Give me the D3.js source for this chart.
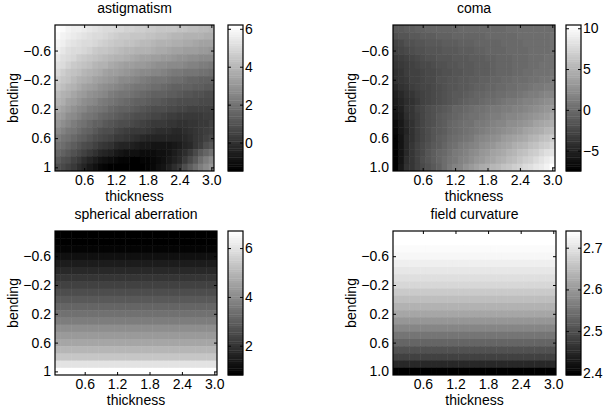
<!DOCTYPE html>
<html>
<head>
<meta charset="utf-8">
<script src="https://cdn.jsdelivr.net/npm/d3@7"></script>
<style>
    body { margin: 0; background: #fff; }
    text { font-family: Helvetica, Arial, "Liberation Sans", sans-serif; font-size: 14px; fill: #000; }
</style>
</head>
<body>
<div id="chart"></div>
<script>
// grid of the images (cell centres)
const thickness = [0.1, 0.2, 0.3, 0.4, 0.5, 0.6, 0.7, 0.8, 0.9, 1.0, 1.1, 1.2, 1.3, 1.4, 1.5,
    1.6, 1.7, 1.8, 1.9, 2.0, 2.1, 2.2, 2.3, 2.4, 2.5, 2.6, 2.7, 2.8, 2.9, 3.0];
const bending = [-0.9, -0.8, -0.7, -0.6, -0.5, -0.4, -0.3, -0.2, -0.1, 0.0,
    0.1, 0.2, 0.3, 0.4, 0.5, 0.6, 0.7, 0.8, 0.9, 1.0];

// one row per bending value, one column per thickness value
const astigmatism = [
    [6.2,6.0,5.8,5.7,5.6,5.5,5.4,5.3,5.2,5.1,5.0,4.9,4.9,4.8,4.8,4.7,4.7,4.6,4.6,4.5,4.5,4.4,4.4,4.3,4.3,4.2,4.2,4.1,4.1,4.0],
    [6.0,5.8,5.6,5.5,5.4,5.3,5.2,5.1,5.0,4.9,4.8,4.7,4.6,4.6,4.5,4.45,4.4,4.35,4.3,4.2,4.2,4.1,4.0,4.0,3.9,3.9,3.8,3.8,3.7,3.7],
    [5.8,5.6,5.4,5.3,5.2,5.1,5.0,4.9,4.8,4.7,4.6,4.5,4.4,4.3,4.3,4.2,4.1,4.1,4.0,3.9,3.9,3.8,3.7,3.7,3.6,3.6,3.5,3.4,3.4,3.35],
    [5.6,5.4,5.2,5.1,5.0,4.9,4.8,4.6,4.5,4.4,4.3,4.2,4.1,4.0,4.0,3.9,3.8,3.8,3.7,3.6,3.6,3.5,3.4,3.4,3.3,3.3,3.2,3.1,3.1,3.0],
    [5.4,5.2,5.0,4.9,4.7,4.6,4.5,4.3,4.2,4.1,4.0,3.9,3.8,3.7,3.6,3.5,3.4,3.4,3.3,3.2,3.1,3.1,3.0,2.9,2.9,2.8,2.8,2.7,2.7,2.6],
    [5.15,5.0,4.8,4.6,4.5,4.3,4.2,4.0,3.9,3.8,3.6,3.5,3.4,3.3,3.2,3.15,3.1,3.0,2.9,2.8,2.8,2.7,2.6,2.6,2.5,2.4,2.4,2.3,2.3,2.2],
    [4.9,4.7,4.5,4.3,4.2,4.0,3.9,3.7,3.6,3.4,3.3,3.2,3.1,3.0,2.9,2.8,2.7,2.6,2.5,2.5,2.4,2.3,2.2,2.2,2.1,2.0,2.0,1.9,1.9,1.8],
    [4.7,4.5,4.3,4.1,3.9,3.7,3.6,3.4,3.2,3.1,3.0,2.9,2.7,2.6,2.5,2.4,2.3,2.2,2.1,2.1,2.0,1.9,1.8,1.8,1.7,1.6,1.6,1.5,1.5,1.4],
    [4.4,4.2,4.0,3.8,3.6,3.4,3.3,3.1,2.9,2.8,2.7,2.5,2.4,2.3,2.2,2.1,2.0,1.9,1.8,1.8,1.7,1.6,1.5,1.5,1.4,1.4,1.3,1.3,1.2,1.15],
    [4.15,3.9,3.7,3.5,3.3,3.1,2.9,2.8,2.6,2.5,2.3,2.2,2.1,2.0,1.9,1.8,1.7,1.6,1.5,1.5,1.4,1.3,1.3,1.2,1.1,1.1,1.0,1.0,0.9,0.9],
    [3.9,3.7,3.4,3.2,3.0,2.8,2.6,2.5,2.3,2.2,2.0,1.9,1.8,1.7,1.6,1.5,1.4,1.3,1.2,1.2,1.1,1.0,1.0,0.9,0.9,0.8,0.8,0.7,0.7,0.7],
    [3.6,3.4,3.1,2.9,2.7,2.5,2.3,2.2,2.0,1.9,1.7,1.6,1.5,1.4,1.3,1.2,1.1,1.0,0.9,0.9,0.8,0.7,0.7,0.6,0.6,0.5,0.5,0.5,0.5,0.5],
    [3.3,3.1,2.8,2.6,2.4,2.2,2.0,1.9,1.7,1.6,1.4,1.3,1.2,1.1,1.0,0.9,0.8,0.7,0.6,0.6,0.5,0.4,0.4,0.3,0.3,0.3,0.3,0.3,0.4,0.4],
    [3.0,2.8,2.5,2.3,2.1,1.9,1.7,1.5,1.4,1.2,1.1,1.0,0.9,0.8,0.7,0.6,0.5,0.4,0.3,0.2,0.2,0.1,0.1,0.0,0.0,0.1,0.1,0.2,0.3,0.45],
    [2.65,2.4,2.2,2.0,1.8,1.6,1.4,1.2,1.0,0.9,0.8,0.6,0.5,0.4,0.3,0.25,0.2,0.1,0.0,-0.1,-0.1,-0.15,-0.2,-0.2,-0.1,0.0,0.1,0.2,0.35,0.5],
    [2.3,2.1,1.9,1.7,1.5,1.3,1.1,0.9,0.7,0.6,0.5,0.3,0.2,0.1,0.0,-0.1,-0.2,-0.3,-0.3,-0.4,-0.4,-0.4,-0.4,-0.3,-0.2,-0.1,0.1,0.3,0.5,0.7],
    [1.95,1.75,1.55,1.35,1.1,0.9,0.7,0.5,0.3,0.1,0.0,-0.2,-0.3,-0.4,-0.5,-0.6,-0.7,-0.7,-0.8,-0.8,-0.8,-0.8,-0.7,-0.6,-0.4,-0.2,0.1,0.4,0.8,1.1],
    [1.6,1.4,1.2,1.0,0.7,0.5,0.2,0.0,-0.2,-0.4,-0.5,-0.7,-0.8,-0.9,-1.0,-1.0,-1.1,-1.1,-1.1,-1.0,-0.9,-0.8,-0.6,-0.4,-0.1,0.3,0.7,1.2,1.6,1.9],
    [1.2,1.0,0.8,0.5,0.2,-0.1,-0.4,-0.6,-0.8,-1.0,-1.1,-1.2,-1.3,-1.35,-1.4,-1.4,-1.35,-1.3,-1.2,-1.1,-0.9,-0.7,-0.5,-0.2,0.2,0.7,1.2,1.8,2.3,2.6],
    [0.9,0.7,0.5,0.2,-0.1,-0.4,-0.7,-1.0,-1.2,-1.35,-1.45,-1.5,-1.5,-1.5,-1.5,-1.45,-1.4,-1.3,-1.2,-1.0,-0.8,-0.5,-0.1,0.3,0.8,1.3,1.8,2.3,2.7,3.0]
];

const coma = [
    [-1.3,-1.1,-0.9,-0.8,-0.7,-0.6,-0.5,-0.5,-0.4,-0.4,-0.3,-0.3,-0.2,-0.2,-0.2,-0.1,-0.1,-0.1,0.0,0.0,0.0,0.1,0.1,0.1,0.2,0.2,0.2,0.3,0.3,0.3],
    [-1.9,-1.6,-1.4,-1.2,-1.1,-1.0,-0.9,-0.8,-0.7,-0.7,-0.6,-0.5,-0.5,-0.4,-0.4,-0.3,-0.3,-0.2,-0.2,-0.1,-0.1,0.0,0.0,0.1,0.1,0.2,0.2,0.3,0.3,0.4],
    [-2.5,-2.2,-1.9,-1.7,-1.5,-1.4,-1.3,-1.2,-1.1,-1.0,-0.9,-0.8,-0.7,-0.7,-0.6,-0.5,-0.5,-0.4,-0.3,-0.3,-0.2,-0.1,-0.1,0.0,0.1,0.1,0.2,0.3,0.3,0.4],
    [-3.0,-2.7,-2.4,-2.1,-1.9,-1.8,-1.6,-1.5,-1.4,-1.3,-1.2,-1.1,-1.0,-0.9,-0.8,-0.7,-0.6,-0.5,-0.5,-0.4,-0.3,-0.2,-0.2,-0.1,0.0,0.1,0.2,0.2,0.3,0.4],
    [-3.4,-3.1,-2.8,-2.5,-2.3,-2.1,-1.9,-1.8,-1.6,-1.5,-1.4,-1.3,-1.2,-1.1,-1.0,-0.9,-0.8,-0.7,-0.6,-0.5,-0.4,-0.3,-0.2,-0.1,0.0,0.1,0.2,0.3,0.4,0.5],
    [-3.7,-3.4,-3.1,-2.8,-2.6,-2.4,-2.2,-2.0,-1.8,-1.7,-1.6,-1.4,-1.3,-1.2,-1.1,-1.0,-0.9,-0.8,-0.7,-0.5,-0.4,-0.3,-0.2,-0.1,0.0,0.2,0.3,0.4,0.5,0.6],
    [-3.9,-3.6,-3.3,-3.0,-2.8,-2.6,-2.4,-2.2,-2.0,-1.8,-1.7,-1.5,-1.4,-1.3,-1.1,-1.0,-0.9,-0.8,-0.6,-0.5,-0.4,-0.3,-0.1,0.0,0.1,0.3,0.4,0.5,0.6,0.7],
    [-4.1,-3.8,-3.4,-3.0,-2.8,-2.6,-2.4,-2.2,-1.9,-1.8,-1.6,-1.5,-1.3,-1.2,-1.0,-0.8,-0.7,-0.6,-0.4,-0.3,-0.2,0.0,0.1,0.2,0.3,0.5,0.6,0.7,0.8,0.9],
    [-4.5,-4.1,-3.7,-3.3,-3.0,-2.7,-2.5,-2.2,-2.0,-1.8,-1.6,-1.4,-1.2,-1.1,-0.9,-0.7,-0.6,-0.4,-0.3,-0.1,0.0,0.2,0.3,0.5,0.6,0.8,0.9,1.1,1.2,1.4],
    [-5.0,-4.5,-4.0,-3.6,-3.2,-2.9,-2.6,-2.3,-2.0,-1.8,-1.5,-1.3,-1.1,-0.9,-0.7,-0.5,-0.4,-0.2,0.0,0.1,0.3,0.5,0.6,0.8,1.0,1.2,1.4,1.6,1.8,2.0],
    [-5.4,-4.9,-4.4,-3.9,-3.4,-3.0,-2.6,-2.3,-2.0,-1.7,-1.4,-1.2,-0.9,-0.7,-0.5,-0.3,-0.1,0.1,0.3,0.5,0.7,0.9,1.1,1.3,1.5,1.7,1.9,2.1,2.4,2.6],
    [-5.8,-5.0,-4.1,-3.6,-3.0,-2.5,-2.1,-1.8,-1.5,-1.1,-0.8,-0.5,-0.3,-0.1,0.2,0.4,0.6,0.7,0.9,1.0,1.2,1.4,1.5,1.7,1.9,2.1,2.4,2.6,2.9,3.2],
    [-6.1,-5.3,-4.4,-3.8,-3.2,-2.6,-2.1,-1.7,-1.3,-1.0,-0.7,-0.4,-0.1,0.1,0.4,0.6,0.8,1.0,1.2,1.4,1.6,1.8,2.0,2.2,2.5,2.7,3.0,3.3,3.6,4.0],
    [-6.5,-5.6,-4.6,-3.9,-3.2,-2.6,-2.1,-1.7,-1.2,-0.9,-0.5,-0.2,0.1,0.4,0.6,0.9,1.1,1.3,1.6,1.8,2.0,2.3,2.5,2.8,3.1,3.4,3.7,4.1,4.4,4.8],
    [-6.8,-5.8,-4.8,-4.0,-3.3,-2.7,-2.1,-1.6,-1.2,-0.8,-0.4,-0.1,0.2,0.5,0.8,1.1,1.3,1.6,1.9,2.1,2.4,2.7,3.0,3.3,3.7,4.0,4.4,4.8,5.2,5.6],
    [-7.0,-5.9,-4.7,-4.0,-3.2,-2.5,-2.0,-1.5,-1.0,-0.6,-0.2,0.1,0.5,0.8,1.1,1.5,1.8,2.1,2.5,2.8,3.2,3.5,3.8,4.2,4.5,4.9,5.3,5.7,6.1,6.5],
    [-7.2,-5.9,-4.6,-3.8,-3.0,-2.4,-1.8,-1.3,-0.8,-0.3,0.1,0.5,0.9,1.3,1.6,2.0,2.4,2.7,3.1,3.5,3.8,4.2,4.6,4.9,5.3,5.7,6.1,6.5,7.0,7.4],
    [-7.4,-5.9,-4.5,-3.7,-2.9,-2.2,-1.6,-1.0,-0.5,0.0,0.4,0.9,1.3,1.7,2.1,2.5,2.9,3.3,3.7,4.1,4.5,4.9,5.3,5.7,6.1,6.6,7.0,7.4,7.9,8.3],
    [-7.5,-5.9,-4.4,-3.6,-2.8,-2.1,-1.4,-0.8,-0.3,0.2,0.7,1.1,1.6,2.0,2.4,2.9,3.3,3.7,4.1,4.6,5.0,5.4,5.9,6.3,6.8,7.2,7.7,8.2,8.8,9.3],
    [-7.5,-5.8,-4.1,-3.6,-3.0,-2.45,-1.9,-1.3,-0.76,0.1,0.92,1.5,2.0,2.6,3.2,3.7,4.3,4.7,5.2,5.6,6.0,6.4,6.8,7.3,7.7,8.1,8.5,8.8,9.5,10.4]
];

// these two do not change with thickness: one value per bending row
const sphericalAberration = [0.80, 0.80, 0.95, 1.25, 1.50, 1.78, 2.05, 2.32, 2.60, 2.88,
    3.16, 3.45, 3.74, 4.04, 4.35, 4.67, 5.00, 5.40, 6.00, 6.70];
const fieldCurvature = [2.740, 2.738, 2.734, 2.727, 2.718, 2.707, 2.695, 2.683, 2.668, 2.652,
    2.635, 2.617, 2.598, 2.578, 2.556, 2.533, 2.508, 2.482, 2.452, 2.395];

const titles = ["astigmatism", "coma", "spherical aberration", "field curvature"];
const xTicks = [0.6, 1.2, 1.8, 2.4, 3.0];
const xTickLabels = ["0.6", "1.2", "1.8", "2.4", "3.0"];
const yTicks = [-0.6, -0.2, 0.2, 0.6, 1.0];
const yTickLabelsA = ["\u22120.6", "\u22120.2", "0.2", "0.6", "1"];
const yTickLabelsB = ["\u22120.6", "\u22120.2", "0.2", "0.6", "1.0"];
const astigTicks = [0, 2, 4, 6];
const astigTickLabels = ["0", "2", "4", "6"];
const comaTicks = [-5, 0, 5, 10];
const comaTickLabels = ["\u22125", "0", "5", "10"];
const sphericalTicks = [2, 4, 6];
const sphericalTickLabels = ["2", "4", "6"];
const fieldTicks = [2.4, 2.5, 2.6, 2.7];
const fieldTickLabels = ["2.4", "2.5", "2.6", "2.7"];

const width = 603, height = 416;
const svg = d3.select("#chart").append("svg")
    .attr("width", width)
    .attr("height", height);

const panels = [
    {title: titles[0], value: (r, c) => astigmatism[r][c], all: astigmatism.flat(),
        box: [55, 214, 25, 171], cb: [228, 243], yLabels: yTickLabelsA, cbTicks: astigTicks, cbLabels: astigTickLabels},
    {title: titles[1], value: (r, c) => coma[r][c], all: coma.flat(),
        box: [393, 555, 25, 171], cb: [566, 581], yLabels: yTickLabelsB, cbTicks: comaTicks, cbLabels: comaTickLabels},
    {title: titles[2], value: (r, c) => sphericalAberration[r], all: sphericalAberration,
        box: [55, 217, 231, 375], cb: [228, 243], yLabels: yTickLabelsA, cbTicks: sphericalTicks, cbLabels: sphericalTickLabels},
    {title: titles[3], value: (r, c) => fieldCurvature[r], all: fieldCurvature,
        box: [393, 556, 231, 375], cb: [566, 581], yLabels: yTickLabelsB, cbTicks: fieldTicks, cbLabels: fieldTickLabels}
];

// matlab "gray" colormap, 64 levels
const LEVELS = 64;
function grayOf(v, lo, hi) {
    let k = Math.floor((v - lo) / (hi - lo) * LEVELS);
    k = Math.max(0, Math.min(LEVELS - 1, k));
    const g = Math.round(k / (LEVELS - 1) * 255);
    return d3.rgb(g, g, g).toString();
}

const dx = 0.05, dy = 0.05;

panels.forEach(p => {
    const [left, right, top, bottom] = p.box;
    const [lo, hi] = d3.extent(p.all);
    const x = d3.scaleLinear().domain([thickness[0] - dx, thickness[thickness.length - 1] + dx]).range([left, right]);
    const y = d3.scaleLinear().domain([bending[0] - dy, bending[bending.length - 1] + dy]).range([top, bottom]);

    const g = svg.append("g");

    //cells
    bending.forEach((b, r) => {
        thickness.forEach((t, c) => {
            const x0 = x(t - dx), x1 = x(t + dx);
            const y0 = y(b - dy), y1 = y(b + dy);
            g.append("rect")
                .attr("x", x0)
                .attr("y", y0)
                .attr("width", x1 - x0 + (c < thickness.length - 1 ? 0.5 : 0))
                .attr("height", y1 - y0 + (r < bending.length - 1 ? 0.5 : 0))
                .attr("fill", grayOf(p.value(r, c), lo, hi));
        });
    });

    //axes, ticks pointing inward on all four sides
    g.append("g")
        .attr("transform", "translate(0," + bottom + ")")
        .call(d3.axisBottom(x).tickValues(xTicks).tickSize(-3).tickPadding(4)
            .tickFormat((d, i) => xTickLabels[i]))
        .call(a => a.select(".domain").remove());
    g.append("g")
        .attr("transform", "translate(0," + top + ")")
        .call(d3.axisTop(x).tickValues(xTicks).tickSize(-3).tickFormat(""))
        .call(a => a.select(".domain").remove());
    g.append("g")
        .attr("transform", "translate(" + left + ",0)")
        .call(d3.axisLeft(y).tickValues(yTicks).tickSize(-3).tickPadding(4)
            .tickFormat((d, i) => p.yLabels[i]))
        .call(a => a.select(".domain").remove());
    g.append("g")
        .attr("transform", "translate(" + right + ",0)")
        .call(d3.axisRight(y).tickValues(yTicks).tickSize(-3).tickFormat(""))
        .call(a => a.select(".domain").remove());

    g.append("rect")
        .attr("x", left).attr("y", top)
        .attr("width", right - left).attr("height", bottom - top)
        .attr("fill", "none").attr("stroke", "black").attr("stroke-width", 1.2);

    g.append("text")
        .attr("x", (left + right) / 2).attr("y", top - 12)
        .attr("text-anchor", "middle")
        .text(p.title);
    g.append("text")
        .attr("x", (left + right) / 2).attr("y", bottom + 30)
        .attr("text-anchor", "middle")
        .text("thickness");
    g.append("text")
        .attr("transform", "translate(" + (left - 37) + "," + ((top + bottom) / 2) + ") rotate(-90)")
        .attr("text-anchor", "middle")
        .text("bending");

    //colorbar
    const [cl, cr] = p.cb;
    const cy = d3.scaleLinear().domain([lo, hi]).range([bottom, top]);
    const step = (hi - lo) / LEVELS;
    d3.range(LEVELS).forEach(k => {
        const v0 = lo + k * step;
        g.append("rect")
            .attr("x", cl)
            .attr("y", cy(v0 + step))
            .attr("width", cr - cl)
            .attr("height", cy(v0) - cy(v0 + step) + 0.4)
            .attr("fill", grayOf(v0 + step / 2, lo, hi));
    });
    g.append("g")
        .attr("transform", "translate(" + cr + ",0)")
        .call(d3.axisRight(cy).tickValues(p.cbTicks).tickSize(-3).tickPadding(2)
            .tickFormat((d, i) => p.cbLabels[i]))
        .call(a => a.select(".domain").remove());
    g.append("g")
        .attr("transform", "translate(" + cl + ",0)")
        .call(d3.axisLeft(cy).tickValues(p.cbTicks).tickSize(-3).tickFormat(""))
        .call(a => a.select(".domain").remove());
    g.append("rect")
        .attr("x", cl).attr("y", top)
        .attr("width", cr - cl).attr("height", bottom - top)
        .attr("fill", "none").attr("stroke", "black").attr("stroke-width", 1.2);
});
</script>
</body>
</html>
